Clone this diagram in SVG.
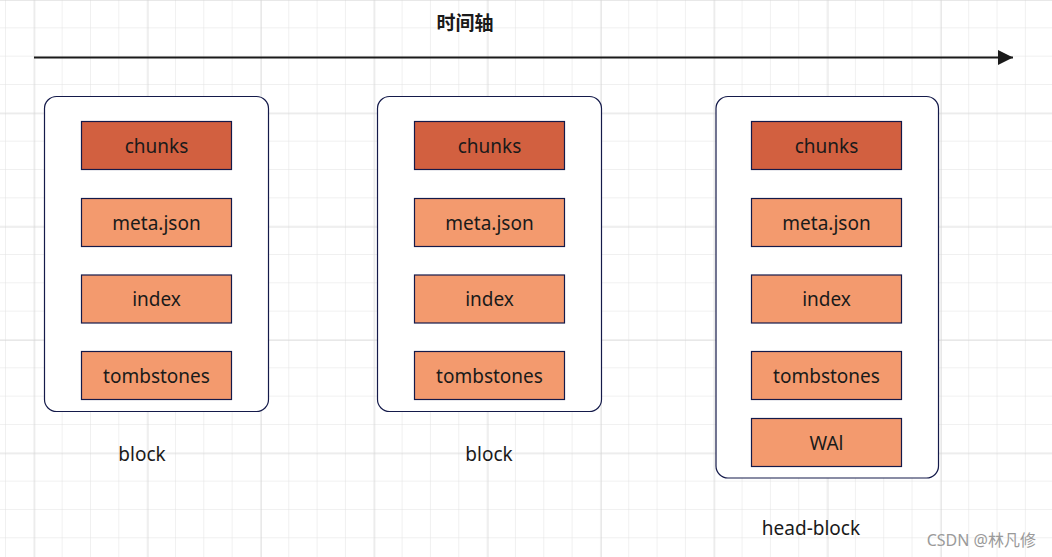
<svg xmlns="http://www.w3.org/2000/svg" width="1052" height="557" viewBox="0 0 1052 557">
<style>
.blk{fill:#ffffff;stroke:#141a4a;stroke-width:1.2}
.it{stroke:#141a4a;stroke-width:1.2}
.dark{fill:#d26040}
.light{fill:#f39a6e}
.t{font-family:"Noto Sans","Open Sans",sans-serif;font-size:19px;fill:#1a1a1a;text-anchor:middle;dominant-baseline:central}
</style>
<defs>
<pattern id="minor" x="5.97" y="0" width="28.33" height="28.33" patternUnits="userSpaceOnUse">
<path d="M28.33 0V28.33M0 28.33H28.33" fill="none" stroke="#e2e2e2" stroke-width="1"/>
</pattern>
<pattern id="major" x="34.3" y="0" width="113.33" height="113.33" patternUnits="userSpaceOnUse">
<path d="M0 0V113.33M0 0H113.33" fill="none" stroke="#d2d2d2" stroke-width="1"/>
</pattern>
<marker id="arr" markerWidth="16" markerHeight="16" refX="15" refY="7.5" orient="auto" markerUnits="userSpaceOnUse">
<path d="M0 0L15 7.5L0 15Z" fill="#1a1a1a"/>
</marker>
</defs>
<rect width="1052" height="557" fill="#ffffff"/>
<rect width="1052" height="557" fill="url(#minor)"/>
<rect width="1052" height="557" fill="url(#major)"/>
<g id="connectors">
<line x1="34" y1="57.5" x2="1013" y2="57.5" stroke="#1a1a1a" stroke-width="2" marker-end="url(#arr)"/>
</g>
<g id="title"><text x="465" y="21" class="t" style="font-weight:bold;font-size:19px;font-family:'Noto Sans CJK SC',sans-serif">时间轴</text></g>
<g id="block1">
<rect class="blk" x="44.5" y="96.5" width="224" height="315" rx="12"/>
<rect class="it dark" x="81.5" y="121.5" width="150" height="48"/><text class="t" x="156.5" y="145.5">chunks</text>
<rect class="it light" x="81.5" y="198.5" width="150" height="48"/><text class="t" x="156.5" y="222.5">meta.json</text>
<rect class="it light" x="81.5" y="275" width="150" height="48"/><text class="t" x="156.5" y="299">index</text>
<rect class="it light" x="81.5" y="351.5" width="150" height="48"/><text class="t" x="156.5" y="375.5">tombstones</text>
<text class="t" x="142" y="453.5">block</text>
</g>
<g id="block2">
<rect class="blk" x="377.5" y="96.5" width="224" height="315" rx="12"/>
<rect class="it dark" x="414.5" y="121.5" width="150" height="48"/><text class="t" x="489.5" y="145.5">chunks</text>
<rect class="it light" x="414.5" y="198.5" width="150" height="48"/><text class="t" x="489.5" y="222.5">meta.json</text>
<rect class="it light" x="414.5" y="275" width="150" height="48"/><text class="t" x="489.5" y="299">index</text>
<rect class="it light" x="414.5" y="351.5" width="150" height="48"/><text class="t" x="489.5" y="375.5">tombstones</text>
<text class="t" x="489" y="453.5">block</text>
</g>
<g id="block3">
<rect class="blk" x="716" y="96.5" width="222.5" height="381.5" rx="12"/>
<rect class="it dark" x="751.5" y="121.5" width="150" height="48"/><text class="t" x="826.5" y="145.5">chunks</text>
<rect class="it light" x="751.5" y="198.5" width="150" height="48"/><text class="t" x="826.5" y="222.5">meta.json</text>
<rect class="it light" x="751.5" y="275" width="150" height="48"/><text class="t" x="826.5" y="299">index</text>
<rect class="it light" x="751.5" y="351.5" width="150" height="48"/><text class="t" x="826.5" y="375.5">tombstones</text>
<rect class="it light" x="751.5" y="418.5" width="150" height="48"/><text class="t" x="826.5" y="442.5">WAl</text>
<text class="t" x="811" y="527.5">head-block</text>
</g>
<g id="watermark"><text x="1036" y="540" style="font-family:'Noto Sans','Noto Sans CJK SC',sans-serif;font-size:16px;fill:#9a9a9a;text-anchor:end;dominant-baseline:central">CSDN @林凡修</text></g>
</svg>
